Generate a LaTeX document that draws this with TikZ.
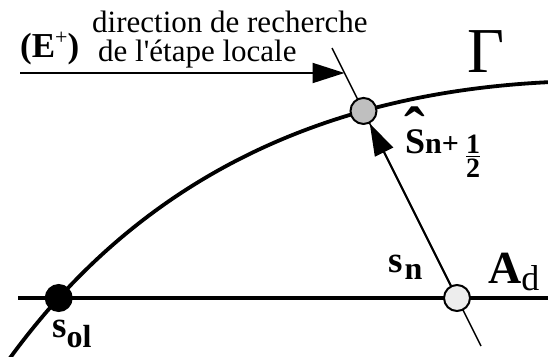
\documentclass[tikz,border=0pt]{standalone}
\usepackage{fontspec}
\usepackage{amsmath}
\setmainfont{Liberation Serif}
\newfontfamily\labfont{Liberation Serif}
\usetikzlibrary{arrows.meta,intersections}
\begin{document}
\begin{tikzpicture}[x=1pt,y=-1pt,
  thickline/.style={line width=3.8pt},
  thinline/.style={line width=1.4pt},
  dot/.style={circle,draw,line width=2pt,minimum size=26pt,inner sep=0pt},
  lbl/.style={inner sep=0pt,anchor=base west},
  bigtip/.style={-{Triangle[length=32pt,width=20pt]}}]
\useasboundingbox (0,0) rectangle (548,356);
% geometry
\coordinate (g0) at (10,358);
\coordinate (gc1) at (136.7,184);
\coordinate (gc2) at (316,92.7);
\coordinate (g1) at (552,82);
\coordinate (a0) at (18,298);
\coordinate (a1) at (552,298);
\coordinate (ltop) at (332,48);
\coordinate (lbot) at (481,346);
\coordinate (estart) at (20,73);
\coordinate (etip) at (344.5,73);
% lines
\draw[thickline,name path=gam] (g0) .. controls (gc1) and (gc2) .. (g1);
\draw[thickline,name path=ad] (a0) -- (a1);
\draw[thinline,name path=dir] (ltop) -- (lbot);
\draw[line width=2pt,bigtip] (estart) -- (etip);
\path[name intersections={of=gam and dir, by=ish}];
\path[name intersections={of=ad and dir, by=isn}];
\path[name intersections={of=gam and ad, by=isol}];
% dots
\node[dot,fill=black] (sol) at (isol) {};
\node[dot,fill=black!25] (shat) at (ish) {};
\node[dot,fill=black!7] (sn) at (isn) {};
\draw[line width=2.2pt,bigtip] (sn) -- (shat);
% labels
\node[lbl,font=\fontsize{35}{35}\selectfont\bfseries] (lE) at (20,57)
  {(E\raisebox{13pt}{\fontsize{22}{22}\selectfont\mdseries +})};
\node[lbl,text depth=0pt,font=\fontsize{31}{31}\selectfont\labfont] (l1) at (92,32) {direction de recherche};
\node[lbl,text height=22pt,font=\fontsize{31}{31}\selectfont\labfont] (l2) at (98,61) {de l'étape locale};
\node[lbl,font=\fontsize{64}{64}\selectfont] (lgam) at (467,72) {Γ};
\node[lbl,font=\fontsize{46}{46}\selectfont\bfseries] (lad) at (488,283)
  {A\raisebox{-7pt}{\fontsize{36}{36}\selectfont\mdseries d}};
\node[lbl,font=\fontsize{37}{37}\selectfont\bfseries] (lsn) at (388,272)
  {s\hspace{2pt}\raisebox{-7pt}{\fontsize{32}{32}\selectfont n}};
\node[lbl,font=\fontsize{37}{37}\selectfont\bfseries] (lsol) at (52,337)
  {s\raisebox{-10pt}{\fontsize{32}{32}\selectfont ol}};
\node[lbl,font=\fontsize{36}{36}\selectfont\bfseries] (lsh) at (405,153)
  {\makebox[20pt][c]{\smash{\raisebox{3pt}{\fontsize{62}{62}\selectfont ˆ}}}\hspace{-20pt}S{\fontsize{30}{30}\selectfont n+}\hspace{6pt}%
   \raisebox{-10pt}{\fontsize{28}{28}\selectfont$\genfrac{}{}{1.3pt}{}{\mbox{\bfseries 1}}{\mbox{\bfseries 2}}$}};
\end{tikzpicture}
\end{document}
